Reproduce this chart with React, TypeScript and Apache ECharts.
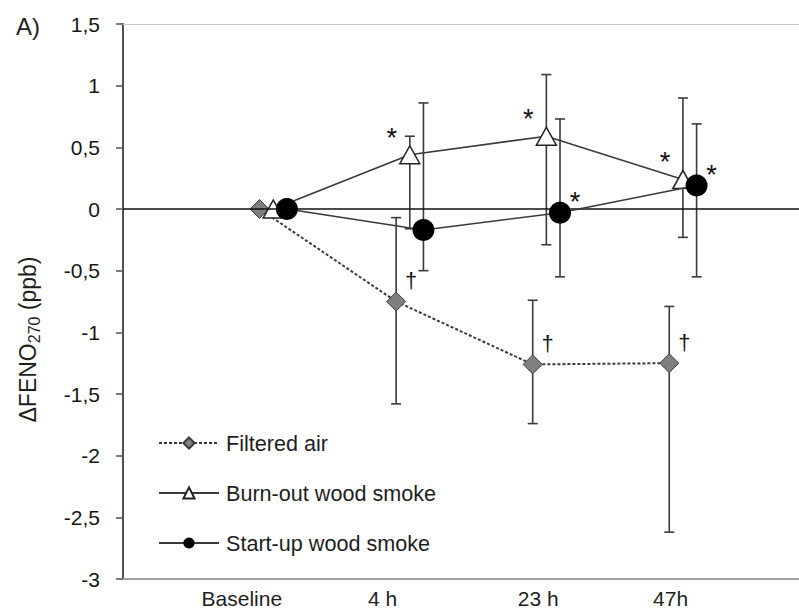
import React, { useEffect, useRef } from 'react';
import * as echarts from 'echarts';

// ---- data ----
const timePoints = ['Baseline', '4 h', '23 h', '47h'];
const timeIndex = [1, 2, 3, 4];
const yTickMin = -3;
const yTickMax = 1.5;
const yTickStep = 0.5;

const filteredAir = [0, -0.75, -1.26, -1.25];
const filteredAirLow = [0, -1.58, -1.74, -2.62];
const filteredAirHigh = [0, -0.07, -0.74, -0.79];
const filteredAirMarks = ['', '†', '†', '†'];

const burnOut = [0, 0.44, 0.59, 0.24];
const burnOutLow = [0, -0.16, -0.29, -0.23];
const burnOutHigh = [0, 0.59, 1.09, 0.9];
const burnOutMarks = ['', '*', '*', '*'];

const startUp = [0, -0.17, -0.03, 0.19];
const startUpLow = [0, -0.5, -0.55, -0.55];
const startUpHigh = [0, 0.86, 0.73, 0.69];
const startUpMarks = ['', '', '*', '*'];

// ---- styling ----
const FONT = '"Liberation Sans", Arial, sans-serif';
const X_SHIFT = 0.1; // horizontal offset between the three groups
const LABEL_NUDGE = [-0.23, -0.2, -0.06, -0.09]; // x-axis label placement (typeset text in original)

const labelPositions = timeIndex.map((v, i) => v + LABEL_NUDGE[i]);

function buildPoints(vals: number[], shift: number, marks: string[], markStyle: any) {
  return vals.map((v, i) => ({
    value: [timeIndex[i] + shift, v],
    label: marks[i] ? { show: true, formatter: marks[i], ...markStyle } : { show: false },
  }));
}

function buildBars(lo: number[], hi: number[], shift: number) {
  return lo.map((l, i) => [timeIndex[i] + shift, l, hi[i]]);
}

const errorRender = (params: any, api: any) => {
  const x = api.value(0);
  const lo = api.value(1);
  const hi = api.value(2);
  if (lo === hi) return null;
  const top = api.coord([x, hi]);
  const bot = api.coord([x, lo]);
  const cap = 5;
  const style = { stroke: '#3a3a3a', lineWidth: 1.6 };
  return {
    type: 'group',
    children: [
      { type: 'line', shape: { x1: top[0], y1: top[1], x2: bot[0], y2: bot[1] }, style },
      { type: 'line', shape: { x1: top[0] - cap, y1: top[1], x2: top[0] + cap, y2: top[1] }, style },
      { type: 'line', shape: { x1: bot[0] - cap, y1: bot[1], x2: bot[0] + cap, y2: bot[1] }, style },
    ],
  };
};

export default function App() {
  const ref = useRef<HTMLDivElement>(null);
  useEffect(() => {
    if (!ref.current) return;
    const chart = echarts.init(ref.current, null, { renderer: 'svg' });
    const daggerStyle = { position: 'inside', offset: [15, -21], fontSize: 22, color: '#111', fontFamily: FONT };
    const starLeft = { position: 'inside', offset: [-18, -17], fontSize: 27, color: '#111', fontFamily: FONT };
    const starRight = { position: 'inside', offset: [15, -11], fontSize: 27, color: '#111', fontFamily: FONT };

    const option: any = {
      animation: false,
      backgroundColor: '#fff',
      title: {
        text: 'A)',
        left: 11,
        top: 9,
        textStyle: { fontSize: 24, fontWeight: 'normal', color: '#222', fontFamily: FONT },
      },
      grid: { left: 123, right: 0, top: 24, bottom: 31, containLabel: false },
      legend: {
        orient: 'vertical',
        left: 158,
        top: 432,
        itemGap: 28,
        itemWidth: 60,
        itemHeight: 14,
        padding: 0,
        data: ['Filtered air', 'Burn-out wood smoke', 'Start-up wood smoke'],
        textStyle: { fontSize: 21.6, lineHeight: 22, color: '#1e1e1e', fontFamily: FONT, padding: [0, 0, 0, 2] },
      },
      xAxis: [
        {
          type: 'value',
          min: -0.1,
          max: 4.85,
          position: 'bottom',
          axisLine: { onZero: false, lineStyle: { color: '#a3a3a3', width: 2 } },
          axisTick: { show: false },
          splitLine: { show: false },
          axisLabel: {
            customValues: labelPositions,
            formatter: (v: number) => {
              const i = labelPositions.findIndex((p) => Math.abs(p - v) < 1e-6);
              return i >= 0 ? timePoints[i] : '';
            },
            fontSize: 21,
            color: '#1e1e1e',
            fontFamily: FONT,
            margin: 9,
          },
        },
        {
          type: 'value',
          min: -0.1,
          max: 4.85,
          position: 'top',
          axisLine: { onZero: false, lineStyle: { color: '#c8c8c8', width: 1 } },
          axisTick: { show: false },
          axisLabel: { show: false },
          splitLine: { show: false },
        },
      ],
      yAxis: {
        type: 'value',
        min: yTickMin,
        max: yTickMax,
        interval: yTickStep,
        axisLine: { show: true, onZero: false, lineStyle: { color: '#505050', width: 2 } },
        axisTick: { show: true, inside: false, length: 7, lineStyle: { color: '#505050', width: 1.5 } },
        splitLine: { show: false },
        axisLabel: {
          formatter: (v: number) => String(v).replace('.', ','),
          fontSize: 21,
          color: '#161616',
          fontFamily: FONT,
          margin: 23,
        },
        name: '{n|ΔFENO}{s|270}{n| (ppb)}',
        nameLocation: 'middle',
        nameRotate: 90,
        nameGap: 81,
        nameTextStyle: {
          padding: [0, 76, 0, 0],
          rich: {
            n: { fontSize: 23, lineHeight: 28, color: '#1e1e1e', fontFamily: FONT },
            s: { fontSize: 16, lineHeight: 16, verticalAlign: 'bottom', color: '#1e1e1e', fontFamily: FONT },
          },
        },
      },
      series: [
        {
          type: 'custom',
          name: 'fa-err',
          renderItem: errorRender,
          encode: { x: 0, y: [1, 2] },
          data: buildBars(filteredAirLow, filteredAirHigh, -X_SHIFT),
          z: 1,
          silent: true,
        },
        {
          type: 'custom',
          name: 'bo-err',
          renderItem: errorRender,
          encode: { x: 0, y: [1, 2] },
          data: buildBars(burnOutLow, burnOutHigh, 0),
          z: 1,
          silent: true,
        },
        {
          type: 'custom',
          name: 'su-err',
          renderItem: errorRender,
          encode: { x: 0, y: [1, 2] },
          data: buildBars(startUpLow, startUpHigh, X_SHIFT),
          z: 1,
          silent: true,
        },
        {
          type: 'line',
          name: 'Filtered air',
          data: buildPoints(filteredAir, -X_SHIFT, filteredAirMarks, daggerStyle),
          symbol: 'diamond',
          symbolSize: 19,
          lineStyle: { color: '#3a3a3a', width: 2, type: [3, 2] },
          itemStyle: { color: '#7f7f7f', borderColor: '#3a3a3a', borderWidth: 1 },
          z: 3,
        },
        {
          type: 'line',
          name: 'Burn-out wood smoke',
          data: buildPoints(burnOut, 0, burnOutMarks, starLeft),
          symbol: 'triangle',
          symbolSize: [20, 18],
          lineStyle: { color: '#3a3a3a', width: 1.6 },
          itemStyle: { color: '#ffffff', borderColor: '#222', borderWidth: 1.5 },
          z: 4,
          markLine: {
            silent: true,
            symbol: 'none',
            label: { show: false },
            lineStyle: { color: '#111', width: 1.6, type: 'solid' },
            data: [{ yAxis: 0 }],
          },
        },
        {
          type: 'line',
          name: 'Start-up wood smoke',
          data: buildPoints(startUp, X_SHIFT, startUpMarks, starRight),
          symbol: 'circle',
          symbolSize: 22,
          lineStyle: { color: '#3a3a3a', width: 1.6 },
          itemStyle: { color: '#000', borderColor: '#000', borderWidth: 0 },
          z: 5,
        },
      ],
    };
    chart.setOption(option);
    return () => chart.dispose();
  }, []);
  return (
    <div
      ref={ref}
      style={{ position: 'fixed', left: 0, top: 0, width: 799, height: 610, background: '#fff' }}
    />
  );
}
